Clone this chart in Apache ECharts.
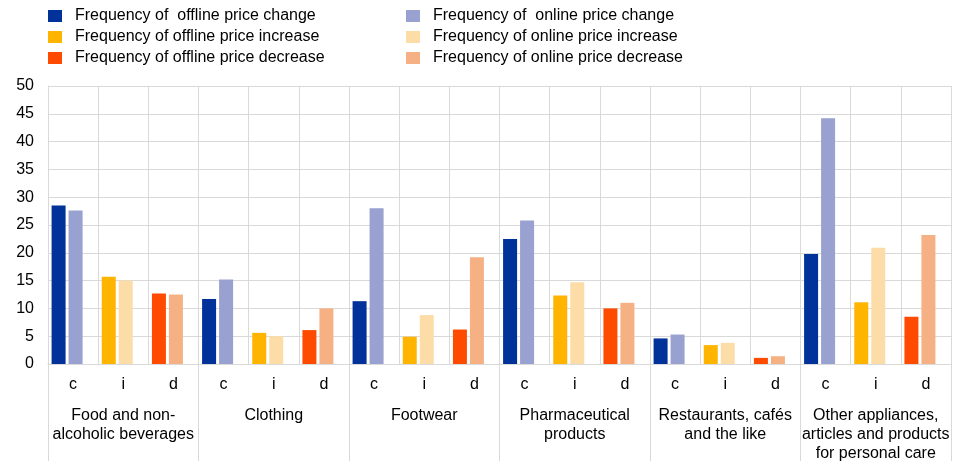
<!DOCTYPE html>
<html>
<head>
<meta charset="utf-8">
<script src="https://cdn.jsdelivr.net/npm/echarts@6/dist/echarts.min.js"></script>
<style>
html,body{margin:0;padding:0;background:#fff;}
#chart{width:966px;height:463px;}
</style>
</head>
<body>
<div id="chart"></div>
<script>
// ---- data ----
const groups = ['Food and non-\nalcoholic beverages', 'Clothing', 'Footwear', 'Pharmaceutical\nproducts', 'Restaurants, cafés\nand the like', 'Other appliances,\narticles and products\nfor personal care'];
const subCats = ['c', 'i', 'd'];
const yTicks = [0, 5, 10, 15, 20, 25, 30, 35, 40, 45, 50];

const offlineChange   = [28.5, 11.7, 11.3, 22.5, 4.6, 19.8];
const onlineChange    = [27.6, 15.2, 28.0, 25.8, 5.3, 44.2];
const offlineIncrease = [15.7, 5.6, 4.9, 12.3, 3.4, 11.1];
const onlineIncrease  = [15.0, 5.0, 8.8, 14.7, 3.8, 20.9];
const offlineDecrease = [12.7, 6.1, 6.2, 10.0, 1.1, 8.5];
const onlineDecrease  = [12.5, 10.0, 19.2, 11.0, 1.4, 23.2];

const seriesNames = [
  'Frequency of  offline price change',
  'Frequency of offline price increase',
  'Frequency of offline price decrease',
  'Frequency of  online price change',
  'Frequency of online price increase',
  'Frequency of online price decrease'
];
const colors = ['#003299', '#FFB400', '#FF4B00', '#98A1D0', '#FCDDA8', '#F5B183'];

// ---- build ----
const categories = [];
groups.forEach(() => subCats.forEach(s => categories.push(s)));

function place(values, slot) {
  const out = [];
  values.forEach(v => { for (let k = 0; k < 3; k++) out.push(k === slot ? v : null); });
  return out;
}

const seriesData = [
  place(offlineChange, 0), place(offlineIncrease, 1), place(offlineDecrease, 2),
  place(onlineChange, 0), place(onlineIncrease, 1), place(onlineDecrease, 2)
];

const font = 'Liberation Sans, Arial, sans-serif';
const gridColor = '#d9d9d9';

const series = seriesData.map((d, i) => ({
  name: seriesNames[i],
  type: 'bar',
  stack: i < 3 ? 'off' : 'on',
  barWidth: 14,
  barGap: '21.4%',
  data: d,
  itemStyle: { color: colors[i] },
  emphasis: { disabled: true }
}));
series.push({ name: 'spacer', type: 'bar', stack: 'spacer', barWidth: 9, barGap: '21.4%', data: [], silent: true });

const legendCommon = {
  orient: 'vertical',
  itemWidth: 14,
  itemHeight: 12,
  itemGap: 5,
  icon: 'rect',
  selectedMode: false,
  textStyle: { fontFamily: font, fontSize: 16, lineHeight: 16, color: '#000', padding: [0, 0, 0, 8] },
  top: 3
};

const option = {
  animation: false,
  color: colors,
  legend: [
    Object.assign({}, legendCommon, { left: 43, data: seriesNames.slice(0, 3) }),
    Object.assign({}, legendCommon, { left: 401, data: seriesNames.slice(3, 6) })
  ],
  grid: { left: 48, right: 15, top: 86, bottom: 97, containLabel: false },
  xAxis: [
    {
      type: 'category',
      data: categories,
      position: 'bottom',
      axisLine: { show: true, lineStyle: { color: gridColor } },
      axisTick: { show: false },
      axisLabel: { fontFamily: font, fontSize: 16, color: '#000', margin: 13, interval: 0 },
      splitLine: { show: true, interval: 0, lineStyle: { color: gridColor } }
    },
    {
      type: 'category',
      data: groups,
      position: 'bottom',
      axisLine: { show: false },
      axisTick: { show: true, length: 97, interval: 0, lineStyle: { color: gridColor } },
      axisLabel: { fontFamily: font, fontSize: 16, color: '#000', margin: 42, lineHeight: 19, interval: 0 },
      splitLine: { show: false }
    }
  ],
  yAxis: {
    type: 'value',
    min: yTicks[0],
    max: yTicks[yTicks.length - 1],
    interval: 5,
    axisLine: { show: true, lineStyle: { color: gridColor } },
    axisTick: { show: false },
    axisLabel: { fontFamily: font, fontSize: 16, color: '#000', margin: 14 },
    splitLine: { show: true, lineStyle: { color: gridColor } }
  },
  series: series
};

const chart = echarts.init(document.getElementById('chart'), null, { renderer: 'canvas' });
chart.setOption(option);
</script>
</body>
</html>
